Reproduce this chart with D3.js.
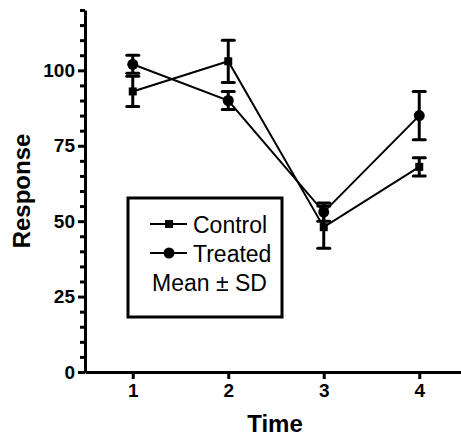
<!DOCTYPE html>
<html>
<head>
<meta charset="utf-8">
<script src="https://cdn.jsdelivr.net/npm/d3@7"></script>
<style>
  body { margin: 0; background: #fff; }
  svg { display: block; font-family: Arial, 'Liberation Sans', sans-serif; }
</style>
</head>
<body>
<svg width="461" height="437"></svg>
<script>
const svg = d3.select('svg');

const times = [1, 2, 3, 4];
const controlMean = [93, 103, 48, 68];
const controlSD = [5, 7, 7, 3];
const treatedMean = [102, 90, 53, 85];
const treatedSD = [3, 3, 3, 8];
const yTicks = [0, 25, 50, 75, 100];

const series = [
  { name: 'Control', shape: 'square', mean: controlMean, sd: controlSD },
  { name: 'Treated', shape: 'circle', mean: treatedMean, sd: treatedSD }
];

const xScale = d3.scaleLinear()
  .domain([0.5, 4.5])
  .range([85, 467]);

const yScale = d3.scaleLinear()
  .domain([0, 120])
  .range([372, 10]);

// axes
const yAxis = d3.axisLeft(yScale)
  .tickValues(yTicks)
  .tickSize(7)
  .tickPadding(3)
  .tickSizeOuter(0);

const yMinor = d3.axisLeft(yScale)
  .tickValues(d3.range(0, 121, 5).filter(v => v % 25 !== 0))
  .tickSize(5)
  .tickFormat('')
  .tickSizeOuter(0);

const xAxis = d3.axisBottom(xScale)
  .tickValues(times)
  .tickFormat(d3.format('d'))
  .tickSize(7)
  .tickPadding(5)
  .tickSizeOuter(0);

svg.append('g')
  .attr('transform', `translate(${xScale.range()[0]},0)`)
  .call(yAxis);
svg.append('g')
  .attr('transform', `translate(${xScale.range()[0]},0)`)
  .call(yMinor)
  .select('.domain').remove();

svg.append('g')
  .attr('transform', `translate(0,${yScale(0)})`)
  .call(xAxis);

svg.selectAll('.domain')
  .attr('stroke', '#000')
  .attr('stroke-width', 3);
svg.selectAll('.tick line')
  .attr('stroke', '#000')
  .attr('stroke-width', 3);
svg.selectAll('.tick text')
  .attr('fill', '#000')
  .attr('font-size', 19)
  .attr('font-weight', 'bold')
  .attr('font-family', 'Arial, Liberation Sans, sans-serif');

// axis labels
svg.append('text')
  .attr('x', 275)
  .attr('y', 432)
  .attr('text-anchor', 'middle')
  .attr('font-size', 24)
  .attr('font-weight', 'bold')
  .text('Time');

svg.append('text')
  .attr('transform', `translate(30,${(yScale(0) + yScale(120)) / 2}) rotate(-90)`)
  .attr('text-anchor', 'middle')
  .attr('font-size', 24)
  .attr('font-weight', 'bold')
  .text('Response');

// series
const line = d3.line()
  .x((d, i) => xScale(times[i]))
  .y(d => yScale(d));

const capW = 6;

series.forEach(s => {
  const g = svg.append('g').attr('class', 'series');

  g.append('path')
    .datum(s.mean)
    .attr('fill', 'none')
    .attr('stroke', '#000')
    .attr('stroke-width', 2)
    .attr('d', line);

  const bars = g.selectAll('g.err')
    .data(s.mean.map((m, i) => ({ t: times[i], m, sd: s.sd[i] })))
    .join('g')
    .attr('class', 'err');

  bars.append('line')
    .attr('x1', d => xScale(d.t))
    .attr('x2', d => xScale(d.t))
    .attr('y1', d => yScale(d.m - d.sd))
    .attr('y2', d => yScale(d.m + d.sd))
    .attr('stroke', '#000')
    .attr('stroke-width', 3);

  [-1, 1].forEach(dir => {
    bars.append('line')
      .attr('x1', d => xScale(d.t) - capW)
      .attr('x2', d => xScale(d.t) + capW)
      .attr('y1', d => yScale(d.m + dir * d.sd))
      .attr('y2', d => yScale(d.m + dir * d.sd))
      .attr('stroke', '#000')
      .attr('stroke-width', 3)
      .attr('stroke-linecap', 'round');
  });

  if (s.shape === 'square') {
    bars.append('rect')
      .attr('x', d => xScale(d.t) - 4)
      .attr('y', d => yScale(d.m) - 4)
      .attr('width', 8)
      .attr('height', 8)
      .attr('fill', '#000');
  } else {
    bars.append('circle')
      .attr('cx', d => xScale(d.t))
      .attr('cy', d => yScale(d.m))
      .attr('r', 5.5)
      .attr('fill', '#000');
  }
});

// legend
const legend = svg.append('g')
  .attr('transform', 'translate(128,198)');

legend.append('rect')
  .attr('width', 154)
  .attr('height', 119)
  .attr('fill', '#fff')
  .attr('stroke', '#000')
  .attr('stroke-width', 3);

const legendItems = legend.selectAll('g.item')
  .data(series)
  .join('g')
  .attr('class', 'item')
  .attr('transform', (d, i) => `translate(0,${26 + i * 29})`);

legendItems.append('line')
  .attr('x1', 22)
  .attr('x2', 59)
  .attr('stroke', '#000')
  .attr('stroke-width', 2);

legendItems.each(function(d) {
  const item = d3.select(this);
  if (d.shape === 'square') {
    item.append('rect')
      .attr('x', 37)
      .attr('y', -4)
      .attr('width', 8)
      .attr('height', 8)
      .attr('fill', '#000');
  } else {
    item.append('circle')
      .attr('cx', 41)
      .attr('r', 5.5)
      .attr('fill', '#000');
  }
});

legendItems.append('text')
  .attr('x', 65)
  .attr('y', 9)
  .attr('font-size', 23)
  .text(d => d.name);

legend.append('text')
  .attr('x', 24)
  .attr('y', 93)
  .attr('font-size', 23)
  .text('Mean \u00b1 SD');
</script>
</body>
</html>
